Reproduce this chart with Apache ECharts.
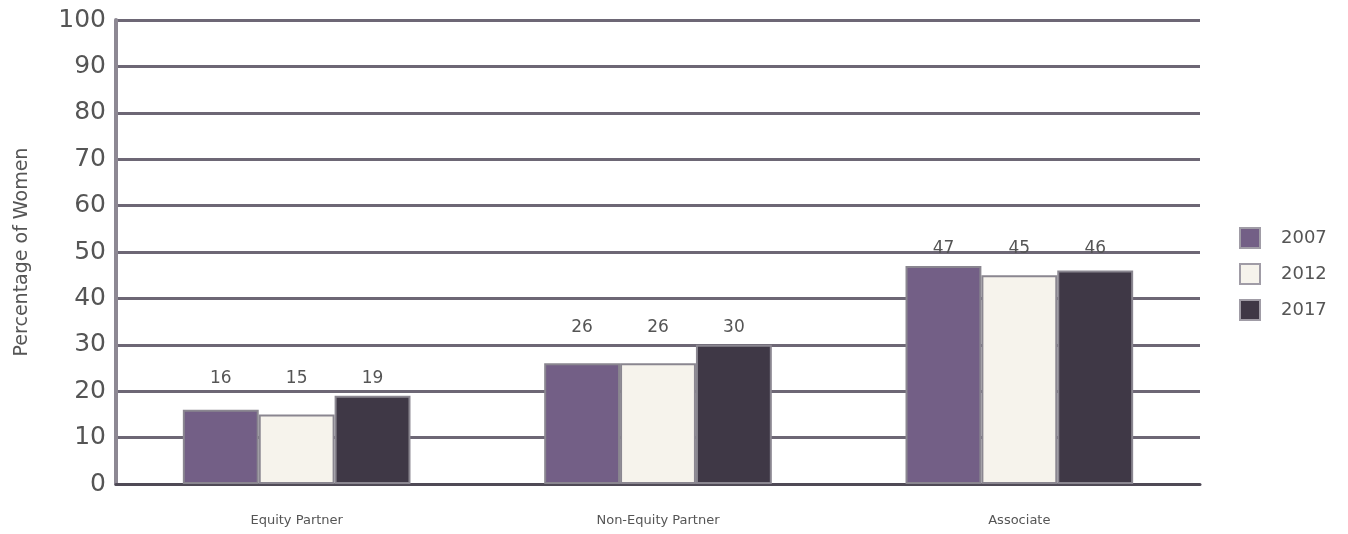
<!DOCTYPE html>
<html><head><meta charset="utf-8">
<script src="https://cdn.jsdelivr.net/npm/echarts@6/dist/echarts.min.js"></script>
<style>html,body{margin:0;padding:0;background:#fff}#c{width:1348px;height:534px}</style>
</head><body><div id="c"></div>
<script>
const categories = ['Equity Partner', 'Non-Equity Partner', 'Associate'];
const seriesNames = ['2007', '2012', '2017'];
const v2007 = [16, 26, 47];
const v2012 = [15, 26, 45];
const v2017 = [19, 30, 46];
const yTicks = [0, 10, 20, 30, 40, 50, 60, 70, 80, 90, 100];
const colors = ['#735f86', '#f6f3ec', '#3f3846'];
const values = [v2007, v2012, v2017];
const FONT = 'DejaVu Sans';

const chart = echarts.init(document.getElementById('c'));
function buildSeries(labelOffsets) {
  return seriesNames.map((n, i) => ({
    name: n, type: 'bar',
    data: values[i].map((v, j) => ({
      value: v,
      label: { offset: [0, labelOffsets ? labelOffsets[i][j] : 0] }
    })),
    barGap: '0%', barCategoryGap: '37%',
    itemStyle: { color: colors[i], borderColor: '#8a8690', borderWidth: 2 },
    label: { show: true, position: 'top', distance: 9, fontFamily: FONT, fontSize: 17, color: '#555' }
  }));
}
chart.setOption({
  animation: false,
  grid: { left: 116, right: 148, top: 20, bottom: 50, containLabel: false },
  legend: {
    orient: 'vertical', left: 1234, top: 222, itemWidth: 20, itemHeight: 20, itemGap: 14,
    icon: 'rect',
    textStyle: { fontFamily: FONT, fontSize: 18, color: '#555', padding: [0, 0, 0, 16] },
    data: seriesNames.map((n) => ({ name: n, itemStyle: { borderColor: '#a09ca6', borderWidth: 2 } }))
  },
  xAxis: {
    type: 'category', data: categories,
    axisLine: { show: true, lineStyle: { color: '#4f4a56', width: 3 } },
    axisTick: { show: false },
    axisLabel: { fontFamily: FONT, fontSize: 13, color: '#555', margin: 30 }
  },
  yAxis: {
    type: 'value', min: yTicks[0], max: yTicks[yTicks.length - 1], interval: 10,
    name: 'Percentage of Women', nameLocation: 'middle', nameGap: 84, nameRotate: 90,
    nameTextStyle: { fontFamily: FONT, fontSize: 19, color: '#555' },
    axisLine: { show: true, lineStyle: { color: '#8d8893', width: 4 } },
    axisTick: { show: false },
    axisLabel: { fontFamily: FONT, fontSize: 25, color: '#555', margin: 10 },
    splitLine: { show: true, lineStyle: { color: '#6d6775', width: 3 } }
  },
  series: buildSeries(null)
});
// align each group's labels at the level of its tallest bar
const offsets = seriesNames.map((n, i) => categories.map((c, j) => {
  const groupMax = Math.max(v2007[j], v2012[j], v2017[j]);
  const pMax = chart.convertToPixel({ yAxisIndex: 0 }, groupMax);
  const pVal = chart.convertToPixel({ yAxisIndex: 0 }, values[i][j]);
  return pMax - pVal;
}));
chart.setOption({ series: buildSeries(offsets) });
</script></body></html>
